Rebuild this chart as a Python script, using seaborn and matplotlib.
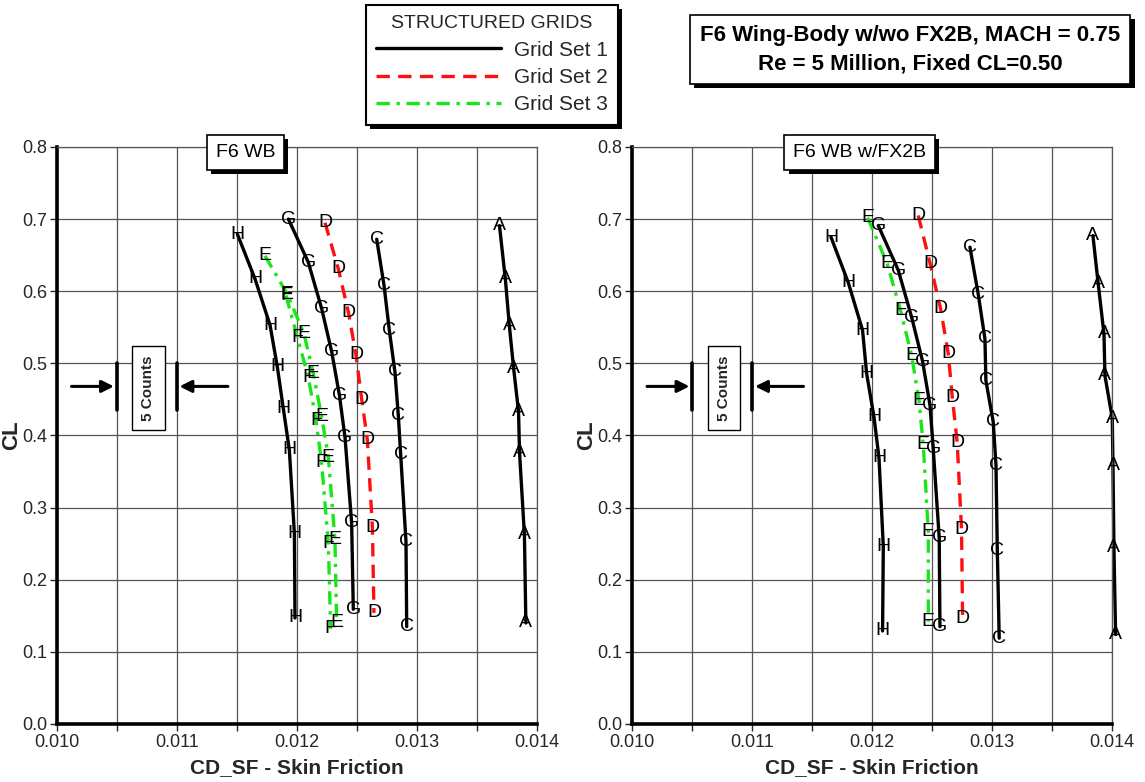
import pandas as pd
import matplotlib.pyplot as plt
import matplotlib.patheffects as pe
from matplotlib.lines import Line2D
import seaborn as sns

# Estilo
sns.set_style('white')
plt.rcParams['font.family'] = ['Liberation Sans', 'DejaVu Sans']

# ====================== DADOS ======================
# Painel esquerdo: F6 WB
wb_A_cd = [0.01369, 0.013739, 0.013772, 0.013808, 0.013849, 0.013857, 0.013898, 0.01391]
wb_A_cl = [0.691, 0.617, 0.553, 0.493, 0.433, 0.377, 0.262, 0.140]
wb_C_cd = [0.012667, 0.012728, 0.012772, 0.012819, 0.012847, 0.012867, 0.012911, 0.012917]
wb_C_cl = [0.672, 0.608, 0.546, 0.488, 0.428, 0.373, 0.253, 0.135]
wb_D_cd = [0.012236, 0.012347, 0.012431, 0.012494, 0.012542, 0.012589, 0.012631, 0.012644]
wb_D_cl = [0.695, 0.631, 0.571, 0.512, 0.450, 0.394, 0.273, 0.154]
wb_E_cd = [0.011736, 0.011922, 0.012061, 0.012139, 0.012208, 0.012264, 0.012319, 0.012333]
wb_E_cl = [0.649, 0.596, 0.541, 0.486, 0.426, 0.370, 0.256, 0.140]
wb_F_cd = [0.011911, 0.012006, 0.012097, 0.012161, 0.012208, 0.012264, 0.012283]
wb_F_cl = [0.594, 0.536, 0.481, 0.421, 0.362, 0.250, 0.132]
wb_G_cd = [0.011931, 0.012097, 0.012208, 0.012292, 0.012356, 0.012403, 0.012458, 0.012472]
wb_G_cl = [0.700, 0.640, 0.576, 0.516, 0.456, 0.397, 0.279, 0.159]
wb_H_cd = [0.011506, 0.011653, 0.011778, 0.011839, 0.011889, 0.011939, 0.011981, 0.011986]
wb_H_cl = [0.679, 0.617, 0.553, 0.495, 0.437, 0.380, 0.264, 0.147]

# Painel direito: F6 WB w/FX2B
fx_A_cd = [0.013839, 0.013883, 0.013931, 0.013939, 0.014, 0.014006, 0.014014, 0.014028]
fx_A_cl = [0.677, 0.610, 0.541, 0.483, 0.424, 0.359, 0.244, 0.124]
fx_C_cd = [0.012814, 0.012883, 0.012939, 0.012947, 0.013008, 0.013031, 0.013042, 0.013058]
fx_C_cl = [0.661, 0.596, 0.534, 0.476, 0.419, 0.359, 0.241, 0.119]
fx_D_cd = [0.012383, 0.012481, 0.012569, 0.012633, 0.012667, 0.012708, 0.012744, 0.012753]
fx_D_cl = [0.705, 0.639, 0.576, 0.514, 0.453, 0.390, 0.269, 0.146]
fx_E_cd = [0.011961, 0.012125, 0.012236, 0.012328, 0.012389, 0.012425, 0.012467, 0.012467]
fx_E_cl = [0.702, 0.638, 0.573, 0.511, 0.449, 0.387, 0.267, 0.142]
fx_G_cd = [0.01205, 0.012217, 0.012328, 0.012419, 0.012481, 0.012508, 0.012558, 0.012564]
fx_G_cl = [0.691, 0.629, 0.564, 0.503, 0.442, 0.382, 0.258, 0.135]
fx_H_cd = [0.011656, 0.0118, 0.011919, 0.011953, 0.012014, 0.012056, 0.012092, 0.012086]
fx_H_cl = [0.675, 0.612, 0.546, 0.486, 0.426, 0.369, 0.246, 0.129]

# Código -> grid set
grid_set = {'A': 1, 'C': 1, 'G': 1, 'H': 1, 'D': 2, 'E': 3, 'F': 3}
estilos = {
    1: dict(color='black', linestyle='-'),
    2: dict(color='#ff1010', linestyle=(0, (4, 2.5))),
    3: dict(color='#19e619', linestyle=(0, (4, 2, 1, 2))),
}

paineis = [
    ('F6 WB', {'A': (wb_A_cd, wb_A_cl), 'C': (wb_C_cd, wb_C_cl), 'D': (wb_D_cd, wb_D_cl),
               'E': (wb_E_cd, wb_E_cl), 'F': (wb_F_cd, wb_F_cl), 'G': (wb_G_cd, wb_G_cl),
               'H': (wb_H_cd, wb_H_cl)}),
    ('F6 WB w/FX2B', {'A': (fx_A_cd, fx_A_cl), 'C': (fx_C_cd, fx_C_cl), 'D': (fx_D_cd, fx_D_cl),
                      'E': (fx_E_cd, fx_E_cl), 'G': (fx_G_cd, fx_G_cl), 'H': (fx_H_cd, fx_H_cl)}),
]

fig = plt.figure(figsize=(11.45, 7.82), dpi=100)
axes = [fig.add_axes([0.0495, 0.0742, 0.4192, 0.7379]),
        fig.add_axes([0.5522, 0.0742, 0.4192, 0.7379])]

sombra = [pe.withSimplePatchShadow(offset=(3, -3), shadow_rgbFace='black', alpha=1)]


def caixa(x, y, s, size, weight='normal', pad=0.35, **kw):
    t = fig.text(x, y, s, fontsize=size, fontweight=weight, color='black',
                 ha='center', va='center', zorder=10,
                 bbox=dict(boxstyle=f'square,pad={pad}', fc='white', ec='black', lw=1.2), **kw)
    t.get_bbox_patch().set_path_effects(sombra)
    return t


for ax, (nome, curvas) in zip(axes, paineis):
    for letra, (cd, cl) in curvas.items():
        st = estilos[grid_set[letra]]
        df = pd.DataFrame({'CD': cd, 'CL': cl})
        sns.lineplot(data=df, x='CD', y='CL', ax=ax, sort=False, estimator=None,
                     color=st['color'], linestyle=st['linestyle'], linewidth=2.4)
        for x, y in zip(cd, cl):
            ax.text(x, y, letra, ha='center', va='center', fontsize=14,
                    color='black', clip_on=False, zorder=5)
    for ln in ax.get_lines():
        ln.set_clip_on(False)

    ax.set_xlim(0.010, 0.014)
    ax.set_ylim(0.0, 0.8)
    ax.set_xticks([0.010, 0.011, 0.012, 0.013, 0.014])
    ax.set_xticklabels(['0.010', '0.011', '0.012', '0.013', '0.014'])
    ax.set_xticks([0.0105, 0.0115, 0.0125, 0.0135], minor=True)
    ax.set_yticks([0.0, 0.1, 0.2, 0.3, 0.4, 0.5, 0.6, 0.7, 0.8])
    ax.set_yticklabels(['0.0', '0.1', '0.2', '0.3', '0.4', '0.5', '0.6', '0.7', '0.8'])
    ax.grid(True, which='both', color='#555555', linewidth=0.9)
    ax.tick_params(which='both', direction='out', length=5, width=1, labelsize=13,
                   bottom=True, left=True, pad=2)
    for s in ['left', 'bottom']:
        ax.spines[s].set_linewidth(2.6)
        ax.spines[s].set_color('black')
    for s in ['top', 'right']:
        ax.spines[s].set_linewidth(0.9)
        ax.spines[s].set_color('#555555')
    ax.set_xlabel('CD_SF - Skin Friction', fontsize=15, fontweight='bold', labelpad=5)
    ax.set_ylabel('CL', fontsize=16, fontweight='bold', labelpad=0)

    # escala de 5 counts
    ax.plot([0.0105, 0.0105], [0.435, 0.500], color='black', lw=2.6)
    ax.plot([0.011, 0.011], [0.435, 0.500], color='black', lw=2.6)
    ax.annotate('', xy=(0.0105, 0.468), xytext=(0.0101, 0.468),
                arrowprops=dict(arrowstyle='-|>', color='black', lw=2.2, mutation_scale=18))
    ax.annotate('', xy=(0.011, 0.468), xytext=(0.01145, 0.468),
                arrowprops=dict(arrowstyle='-|>', color='black', lw=2.2, mutation_scale=18))
    ax.text(0.010765, 0.466, '5 Counts', rotation=90, ha='center', va='center', fontsize=11,
            fontweight='bold', zorder=6,
            bbox=dict(boxstyle='square,pad=0.6', fc='white', ec='black', lw=1))

    # rótulo do painel
    pos = ax.get_position()
    fx = 0.394 if nome == 'F6 WB' else 0.474
    caixa(pos.x0 + fx * pos.width, pos.y1 - 0.007, nome, 14, pad=0.45)

# Título
caixa(0.795, 0.9365, 'F6 Wing-Body w/wo FX2B, MACH = 0.75\nRe = 5 Million, Fixed CL=0.50',
      16, weight='bold', pad=0.45, linespacing=1.45)

# Legenda
handles = [Line2D([], [], lw=2.4, **estilos[1]),
           Line2D([], [], lw=2.4, **estilos[2]),
           Line2D([], [], lw=2.4, **estilos[3])]
leg = fig.legend(handles, ['Grid Set 1', 'Grid Set 2', 'Grid Set 3'], title='STRUCTURED GRIDS',
                 loc='upper left', bbox_to_anchor=(0.3197, 0.9936), borderaxespad=0,
                 fontsize=15, title_fontsize=14, handlelength=6.0, fancybox=False,
                 edgecolor='black', framealpha=1, borderpad=0.5, labelspacing=0.4,
                 handletextpad=0.6)
leg.get_frame().set_linewidth(1.5)
leg.get_frame().set_path_effects(sombra)

plt.savefig('out.png', dpi=100)
plt.close()
